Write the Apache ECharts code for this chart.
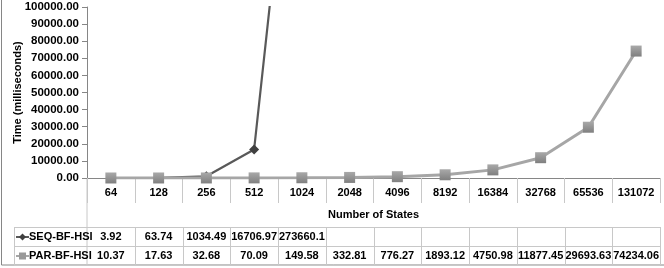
<!DOCTYPE html>
<html>
<head>
<meta charset="utf-8">
<script src="https://cdn.jsdelivr.net/npm/echarts@6/dist/echarts.min.js"></script>
<style>
  html, body { margin: 0; padding: 0; background: #fff; }
  #chart { width: 664px; height: 268px; }
</style>
</head>
<body>
<div id="chart"></div>
<script>
var states = ['64', '128', '256', '512', '1024', '2048', '4096', '8192', '16384', '32768', '65536', '131072']
var seqName = 'SEQ-BF-HSI'
var parName = 'PAR-BF-HSI'
var seqTimes = [3.92, 63.74, 1034.49, 16706.97, 273660.1, null, null, null, null, null, null, null]
var parTimes = [10.37, 17.63, 32.68, 70.09, 149.58, 332.81, 776.27, 1893.12, 4750.98, 11877.45, 29693.63, 74234.06]
var yTicks = { min: 0, max: 100000, step: 10000 }

var font = 'Liberation Sans'
var chart = echarts.init(document.getElementById('chart'))

chart.setOption({
  backgroundColor: '#fff',
  animation: false,
  grid: {
    left: 87,
    right: 4,
    top: 7,
    bottom: 90,
    containLabel: false,
    outerBoundsMode: 'none'
  },
  xAxis: {
    type: 'category',
    data: states,
    boundaryGap: true,
    name: 'Number of States',
    nameLocation: 'middle',
    nameGap: 31,
    nameTextStyle: { fontFamily: font, fontWeight: 'bold', fontSize: 11, color: '#000' },
    axisLine: { lineStyle: { color: '#868686', width: 1 } },
    axisTick: { show: true, interval: 0, length: 25, lineStyle: { color: '#c8c8c8' } },
    axisLabel: { interval: 0, margin: 9, fontFamily: font, fontWeight: 'bold', fontSize: 11, color: '#000' }
  },
  yAxis: {
    type: 'value',
    min: yTicks.min,
    max: yTicks.max,
    interval: yTicks.step,
    name: 'Time (milliseconds)',
    nameLocation: 'middle',
    nameRotate: 90,
    nameGap: 64,
    nameMoveOverlap: false,
    nameTextStyle: { fontFamily: font, fontWeight: 'bold', fontSize: 11, color: '#000' },
    axisLine: { show: true, lineStyle: { color: '#868686' } },
    axisTick: { show: true, length: 5, lineStyle: { color: '#868686' } },
    splitLine: { show: false },
    axisLabel: {
      margin: 8,
      fontFamily: font,
      fontWeight: 'bold',
      fontSize: 11.5,
      color: '#000',
      formatter: function(v) { return v.toFixed(2) }
    }
  },
  series: [{
    name: seqName,
    type: 'line',
    data: seqTimes,
    clip: true,
    symbol: 'diamond',
    symbolSize: 10,
    lineStyle: { color: '#595959', width: 2.2 },
    itemStyle: { color: '#404040' }
  }, {
    name: parName,
    type: 'line',
    data: parTimes,
    symbol: 'rect',
    symbolSize: 11,
    lineStyle: { color: '#a6a6a6', width: 3 },
    itemStyle: {
      color: new echarts.graphic.LinearGradient(0, 0, 0, 1, [
        { offset: 0, color: '#a9a9a9' },
        { offset: 1, color: '#7f7f7f' }
      ])
    }
  }]
})

// data table under the axis, built from the category positions
function drawTable() {
  var c0 = chart.convertToPixel({ xAxisIndex: 0 }, 0)
  var c1 = chart.convertToPixel({ xAxisIndex: 0 }, 1)
  var w = c1 - c0
  var left = c0 - w / 2
  var right = left + w * states.length
  var axisY = chart.convertToPixel({ yAxisIndex: 0 }, 0)
  var tTop = 227
  var rowH = 19
  var tLeft = 14
  var border = '#c8c8c8'
  var els = []
  var txt = { fontFamily: font, fontWeight: 'bold', fontSize: 11, fill: '#000' }

  // outer frame
  els.push({ type: 'rect', shape: { x: 1.5, y: -5, width: 680, height: 270 }, style: { fill: null, stroke: '#868686', lineWidth: 1 }, silent: true })
  // long left line under the y axis
  els.push({ type: 'line', shape: { x1: left, y1: axisY, x2: left, y2: tTop + 2 * rowH }, style: { stroke: border } })
  // horizontal table lines
  for (var r = 0; r <= 2; r++) {
    var y = tTop + r * rowH + 0.5
    els.push({ type: 'line', shape: { x1: tLeft, y1: y, x2: right, y2: y }, style: { stroke: border } })
  }
  els.push({ type: 'line', shape: { x1: tLeft + 0.5, y1: tTop, x2: tLeft + 0.5, y2: tTop + 2 * rowH }, style: { stroke: border } })
  for (var i = 1; i <= states.length; i++) {
    var x = Math.round(left + i * w) + 0.5
    els.push({ type: 'line', shape: { x1: x, y1: tTop, x2: x, y2: tTop + 2 * rowH }, style: { stroke: border } })
  }

  var rows = [
    { name: seqName, vals: seqTimes, line: '#595959', sym: 'diamond', symColor: '#404040' },
    { name: parName, vals: parTimes, line: '#a6a6a6', sym: 'rect', symColor: '#999' }
  ]
  rows.forEach(function(row, r) {
    var cy = tTop + r * rowH + rowH / 2 + 0.5
    els.push({ type: 'line', shape: { x1: 16, y1: cy, x2: 29, y2: cy }, style: { stroke: row.line, lineWidth: 2 } })
    if (row.sym === 'diamond') {
      els.push({ type: 'polygon', shape: { points: [[22.5, cy - 3.5], [26, cy], [22.5, cy + 3.5], [19, cy]] }, style: { fill: row.symColor } })
    } else {
      els.push({ type: 'rect', shape: { x: 19, y: cy - 3.5, width: 7, height: 7 }, style: { fill: row.symColor } })
    }
    els.push({ type: 'text', x: 29, y: cy, style: Object.assign({ text: row.name, align: 'left', verticalAlign: 'middle' }, txt) })
    row.vals.forEach(function(v, k) {
      if (v === null) return
      els.push({
        type: 'text',
        x: chart.convertToPixel({ xAxisIndex: 0 }, k),
        y: cy,
        style: Object.assign({ text: String(v), align: 'center', verticalAlign: 'middle' }, txt)
      })
    })
  })
  chart.setOption({ graphic: { elements: els } })
}
drawTable()
</script>
</body>
</html>
